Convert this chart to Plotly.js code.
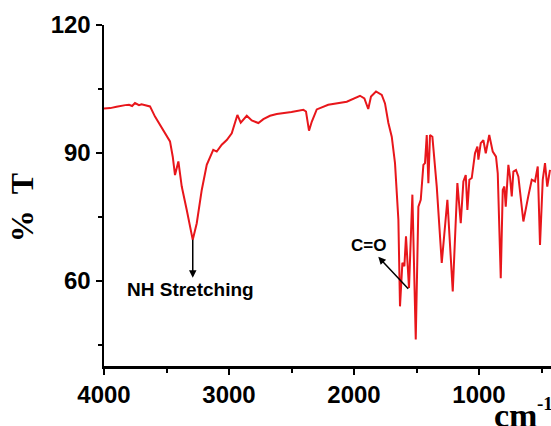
<!DOCTYPE html>
<html>
<head>
<meta charset="utf-8">
<script src="https://cdn.plot.ly/plotly-3.0.1.min.js"></script>
<style>
html,body{margin:0;padding:0;background:#fff;}
#chart{width:551px;height:426px;}
</style>
</head>
<body>
<div id="chart"></div>
<script>
// FTIR spectrum values
const wavenumber = [4000,3950,3900,3872,3830,3800,3775,3752,3720,3700,3660,3632,3592,3538,3472,3450,3432,3405,3378,3338,3290,3258,3218,3178,3126,3098,3058,3018,2978,2933,2906,2858,2818,2765,2725,2672,2618,2500,2405,2384,2360,2338,2298,2206,2058,1952,1917,1886,1864,1824,1778,1752,1725,1698,1672,1645,1632,1613,1597,1584,1570,1560,1533,1506,1485,1466,1445,1432,1418,1405,1392,1373,1338,1298,1253,1210,1173,1146,1125,1106,1093,1077,1058,1032,1013,1005,986,965,946,918,890,864,850,826,810,797,786,765,752,738,725,704,685,645,606,578,552,530,512,490,472,454,432];
const transmittance = [100.4,100.5,100.8,101.0,101.2,101.3,101.0,101.7,101.2,101.4,101.0,100.9,98.5,95.8,92.7,89.1,84.8,88.0,82.1,76.6,69.6,73.5,81.3,87.2,90.7,90.3,91.9,93.0,94.6,98.9,97.1,98.7,97.6,97.0,97.9,98.7,99.1,99.6,100.1,99.7,95.2,97.3,100.2,101.3,102.0,103.4,102.8,100.3,103.2,104.4,103.6,101.6,97.0,93.8,87.6,74.3,54.0,64.2,63.4,70.4,61.8,58.3,80.2,46.2,77.4,79.0,87.2,87.6,94.2,82.9,94.2,93.8,82.1,64.2,79.0,57.5,82.9,73.5,83.3,84.8,76.6,83.7,84.1,89.9,91.5,88.4,92.3,93.0,89.9,94.2,90.3,89.1,85.2,60.6,81.3,82.1,77.4,87.2,84.4,79.8,85.6,86.0,84.4,73.9,79.8,83.7,83.3,86.8,68.4,83.7,87.6,82.1,86.0];

const xRange = [4000, 424];
const yRange = [40, 120];
const xTicks = [4000, 3000, 2000, 1000];
const yTicks = [60, 90, 120];

const nhLabel = "NH Stretching&nbsp;";
const coLabel = "C=O";
const yTitle = "%&nbsp;&nbsp;T&nbsp;&nbsp;&nbsp;";
const xTitleUnit = "cm";
const xTitleExp = "-1";

// annotation anchors (data units): peak marked, label centre
const nhPeak = [3290, 69.6];
const nhText = [3290, 57.9];
const coPeak = [1566, 58.1];
const coText = [1888, 68.2];

const tickFont = {family: "Arial, 'Liberation Sans', sans-serif", size: 24, color: "#000", weight: "bold"};
const noteFont = {family: "Arial, 'Liberation Sans', sans-serif", size: 19, color: "#000", weight: "bold"};
const serifFont = {family: "'Times New Roman', 'Liberation Serif', serif", color: "#000", weight: "bold"};

const trace = {
  x: wavenumber, y: transmittance, type: "scatter", mode: "lines",
  line: {color: "#e8161b", width: 2}, hoverinfo: "skip"
};

const layout = {
  width: 551, height: 426,
  margin: {l: 104, r: 0, t: 25, b: 60, pad: 0},
  paper_bgcolor: "#fff", plot_bgcolor: "#fff",
  showlegend: false,
  xaxis: {
    range: xRange, autorange: false,
    tickvals: xTicks, ticktext: xTicks.map(String),
    showgrid: false, zeroline: false,
    showline: true, linecolor: "#000", linewidth: 2.5,
    ticks: "outside", ticklen: 6, tickwidth: 2, tickcolor: "#000",
    tickfont: tickFont,
    minor: {dtick: 500, tick0: 0, ticks: "outside", ticklen: 4, tickwidth: 2, tickcolor: "#000", showgrid: false}
  },
  yaxis: {
    range: yRange, autorange: false,
    tickvals: yTicks, ticktext: yTicks.map(String),
    showgrid: false, zeroline: false,
    showline: true, linecolor: "#000", linewidth: 2.5,
    ticks: "outside", ticklen: 6, tickwidth: 2, tickcolor: "#000",
    tickfont: tickFont,
    minor: {dtick: 15, tick0: 0, ticks: "outside", ticklen: 4, tickwidth: 2, tickcolor: "#000", showgrid: false},
    title: {text: yTitle, font: Object.assign({size: 32}, serifFont), standoff: 8}
  },
  annotations: [
    {x: nhPeak[0], y: nhPeak[1], ax: nhText[0], ay: nhText[1],
     xref: "x", yref: "y", axref: "x", ayref: "y", text: nhLabel, font: noteFont,
     showarrow: true, arrowside: "start", startarrowhead: 2, startarrowsize: 1,
     arrowwidth: 1.5, arrowcolor: "#000", startstandoff: 0},
    {x: coPeak[0], y: coPeak[1], ax: coText[0], ay: coText[1],
     xref: "x", yref: "y", axref: "x", ayref: "y", text: coLabel,
     font: Object.assign({}, noteFont, {size: 17}),
     showarrow: true, arrowside: "start", startarrowhead: 2, startarrowsize: 1,
     arrowwidth: 1.5, arrowcolor: "#000", startstandoff: 0},
    {x: 0.868, y: -0.206, xref: "paper", yref: "paper", xanchor: "left", yanchor: "bottom",
     text: xTitleUnit, showarrow: false, font: Object.assign({size: 34}, serifFont)},
    {x: 0.964, y: -0.073, xref: "paper", yref: "paper", xanchor: "left", yanchor: "top",
     text: xTitleExp, showarrow: false, font: Object.assign({size: 19}, serifFont)}
  ]
};

Plotly.newPlot("chart", [trace], layout, {staticPlot: true, displayModeBar: false});
</script>
</body>
</html>
